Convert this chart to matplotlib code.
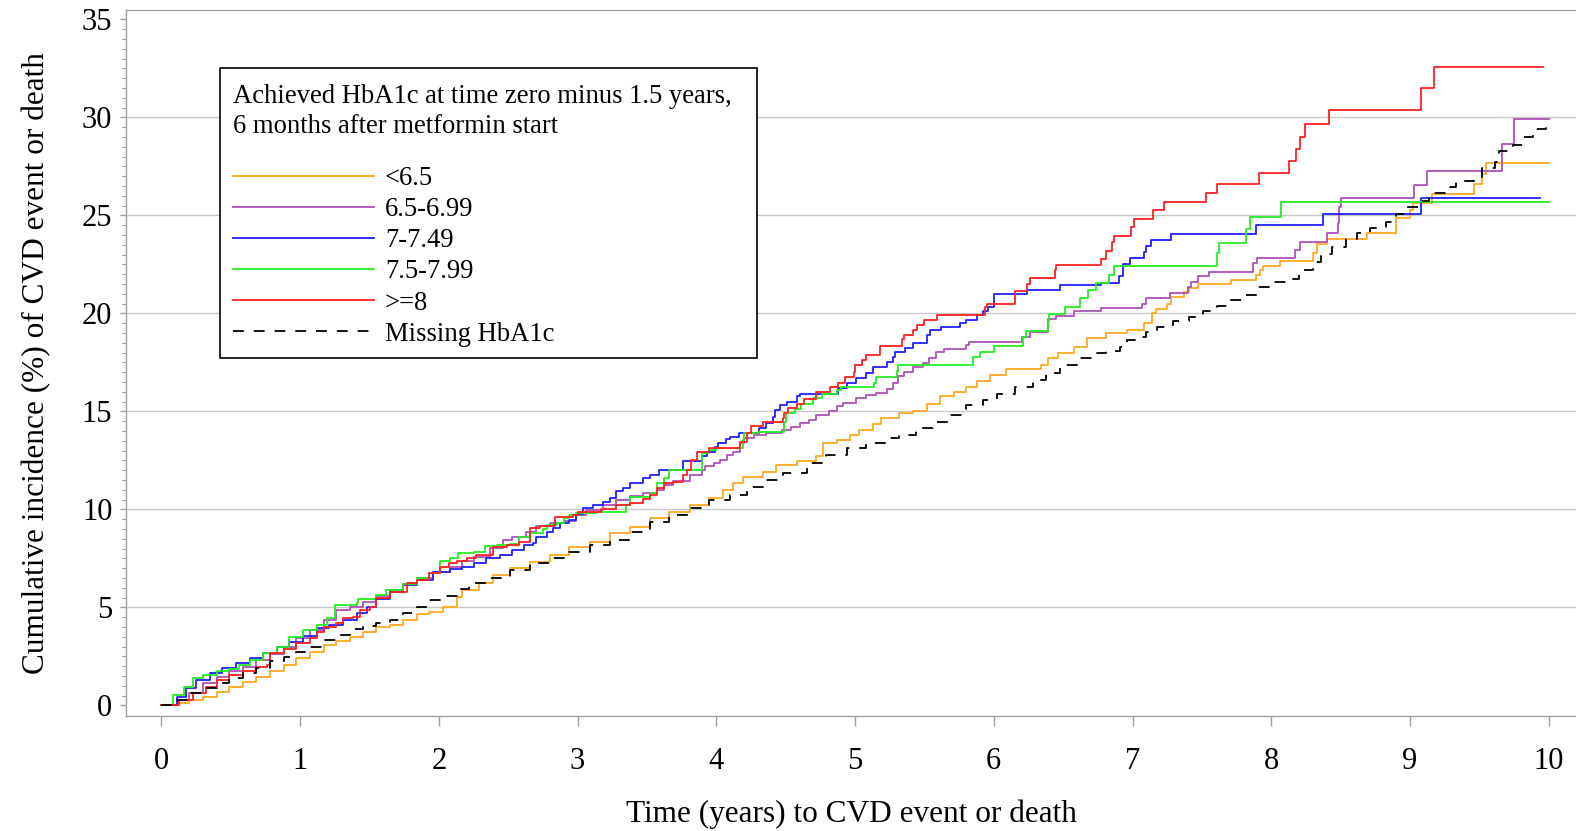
import numpy as np
import matplotlib
matplotlib.use("Agg")
import matplotlib.pyplot as plt
from matplotlib.patches import Rectangle

plt.rcParams["font.family"] = ["Liberation Serif", "DejaVu Serif"]

# (time in years, cumulative incidence %)
lt65 = np.array([(0,0),(0.11,0.11),(0.2,0.28),(0.3,0.45),(0.4,0.7),(0.49,0.96),(0.59,1.21),(0.68,1.47),(0.78,1.73),(0.88,2.07),(0.97,2.41),(1.07,2.74),(1.17,3.09),(1.26,3.31),(1.36,3.51),(1.45,3.77),(1.55,3.99),(1.65,4.11),(1.74,4.36),(1.84,4.67),(1.93,4.79),(2.03,5.04),(2.13,5.55),(2.17,5.89),(2.29,6.23),(2.39,6.66),(2.51,7.0),(2.66,7.34),(2.8,7.68),(2.94,8.1),(3.09,8.36),(3.23,8.79),(3.38,9.12),(3.52,9.55),(3.66,9.89),(3.81,10.23),(3.95,10.57),(4.05,11.0),(4.12,11.34),(4.19,11.67),(4.34,11.93),(4.43,12.27),(4.58,12.49),(4.72,12.7),(4.77,13.38),(4.87,13.55),(4.96,13.8),(5.03,14.06),(5.13,14.36),(5.19,14.65),(5.32,14.9),(5.42,15.0),(5.52,15.38),(5.61,15.76),(5.71,16.0),(5.8,16.26),(5.88,16.57),(5.97,16.86),(6.09,17.15),(6.34,17.37),(6.39,17.7),(6.46,17.97),(6.58,18.3),(6.67,18.73),(6.81,18.99),(6.96,19.16),(7.08,19.5),(7.14,20.0),(7.17,20.2),(7.25,20.5),(7.28,20.86),(7.37,21.1),(7.41,21.28),(7.47,21.5),(7.71,21.7),(7.89,21.96),(7.92,22.2),(7.94,22.42),(8.06,22.68),(8.3,23.07),(8.33,23.55),(8.4,23.8),(8.69,24.12),(8.9,24.86),(9.0,25.28),(9.02,25.62),(9.16,26.1),(9.46,26.6),(9.52,27.1),(9.55,27.66),(10.0,27.66)])

h65_699 = np.array([(0,0),(0.11,0.28),(0.2,0.62),(0.3,1.13),(0.4,1.47),(0.49,1.73),(0.59,1.98),(0.68,2.32),(0.78,2.63),(0.88,3.0),(0.97,3.43),(1.07,3.85),(1.17,4.36),(1.26,4.87),(1.36,5.04),(1.45,5.3),(1.55,5.59),(1.65,5.89),(1.74,6.2),(1.84,6.49),(1.96,6.83),(2.08,7.08),(2.17,7.39),(2.25,7.59),(2.37,8.02),(2.46,8.44),(2.53,8.61),(2.63,8.87),(2.7,9.13),(2.8,9.3),(2.9,9.43),(2.99,9.72),(3.06,9.97),(3.18,10.23),(3.28,10.49),(3.38,10.69),(3.47,10.83),(3.57,10.99),(3.62,11.25),(3.69,11.47),(3.81,11.76),(3.9,12.02),(3.92,12.22),(3.98,12.36),(4.03,12.52),(4.08,12.78),(4.12,12.95),(4.17,13.38),(4.2,13.63),(4.27,13.8),(4.36,13.92),(4.47,14.06),(4.54,14.22),(4.6,14.4),(4.67,14.57),(4.72,14.82),(4.81,15.04),(4.87,15.25),(4.91,15.42),(5.01,15.67),(5.08,15.84),(5.15,15.96),(5.23,16.13),(5.27,16.44),(5.31,16.81),(5.35,17.03),(5.42,17.29),(5.49,17.46),(5.53,17.71),(5.58,18.05),(5.64,18.17),(5.8,18.39),(5.82,18.55),(6.2,18.78),(6.26,19.07),(6.39,19.7),(6.45,19.87),(6.58,20.1),(6.77,20.3),(7.07,20.5),(7.1,20.77),(7.27,21.03),(7.4,21.37),(7.42,21.6),(7.47,21.9),(7.55,22.13),(7.87,22.56),(7.9,22.85),(8.17,23.24),(8.21,23.66),(8.4,24.09),(8.48,24.6),(8.49,25.45),(8.5,25.88),(9.03,26.56),(9.12,27.29),(9.66,28.63),(9.75,29.9),(10.0,29.9)])

h7_749 = np.array([(0,0),(0.11,0.45),(0.18,0.88),(0.25,1.3),(0.35,1.64),(0.44,1.9),(0.54,2.15),(0.64,2.41),(0.73,2.66),(0.83,2.97),(0.92,3.26),(1.02,3.55),(1.12,3.94),(1.21,4.11),(1.31,4.36),(1.41,4.7),(1.48,5.01),(1.55,5.42),(1.65,5.8),(1.74,6.15),(1.84,6.4),(1.96,6.83),(2.08,6.96),(2.17,7.08),(2.25,7.29),(2.34,7.51),(2.44,7.68),(2.53,7.93),(2.61,8.19),(2.68,8.31),(2.7,8.61),(2.78,8.87),(2.82,9.04),(2.87,9.3),(2.94,9.46),(2.99,9.77),(3.04,10.06),(3.11,10.23),(3.18,10.4),(3.23,10.57),(3.28,10.94),(3.33,11.08),(3.38,11.34),(3.47,11.59),(3.52,11.76),(3.59,12.02),(3.76,12.49),(3.9,12.7),(3.93,12.92),(3.99,13.2),(4.01,13.41),(4.07,13.58),(4.1,13.71),(4.16,13.89),(4.31,14.14),(4.36,14.4),(4.41,14.73),(4.42,15.07),(4.46,15.33),(4.51,15.5),(4.58,15.76),(4.6,15.9),(4.88,16.18),(4.94,16.47),(5.01,16.7),(5.08,16.98),(5.13,17.29),(5.23,17.54),(5.27,17.8),(5.29,18.05),(5.36,18.22),(5.42,18.48),(5.52,18.9),(5.54,19.16),(5.62,19.3),(5.76,19.5),(5.8,19.67),(5.88,19.92),(5.92,20.13),(5.96,20.35),(6.0,21.0),(6.24,21.2),(6.48,21.45),(6.77,21.57),(6.9,21.9),(6.93,22.5),(6.98,22.85),(7.08,23.15),(7.1,23.45),(7.13,23.75),(7.28,24.05),(7.89,24.5),(8.37,25.06),(9.08,25.9),(9.94,25.9)])

h75_799 = np.array([(0,0),(0.08,0.54),(0.16,0.96),(0.23,1.39),(0.3,1.56),(0.4,1.73),(0.49,1.85),(0.56,2.07),(0.64,2.32),(0.73,2.66),(0.83,3.0),(0.92,3.51),(1.02,3.85),(1.12,4.11),(1.19,4.45),(1.25,5.13),(1.41,5.21),(1.42,5.42),(1.55,5.64),(1.62,5.89),(1.74,6.2),(1.84,6.49),(1.93,6.74),(2.01,7.39),(2.08,7.51),(2.14,7.8),(2.25,7.85),(2.33,8.14),(2.42,8.19),(2.51,8.24),(2.58,8.61),(2.66,8.79),(2.75,8.99),(2.78,9.21),(2.85,9.3),(2.9,9.55),(2.94,9.72),(2.99,9.8),(3.14,9.89),(3.35,10.23),(3.38,10.62),(3.52,10.83),(3.57,11.34),(3.62,11.59),(3.66,12.02),(3.9,12.87),(3.95,13.03),(4.0,13.12),(4.19,13.55),(4.2,13.89),(4.3,13.97),(4.49,14.48),(4.5,14.9),(4.57,15.1),(4.61,15.38),(4.7,15.67),(4.76,15.9),(4.87,16.1),(4.9,16.26),(5.14,16.47),(5.15,16.78),(5.3,17.08),(5.31,17.37),(5.85,17.76),(5.9,18.05),(6.0,18.36),(6.21,18.8),(6.23,19.1),(6.39,19.6),(6.4,19.95),(6.51,20.35),(6.62,20.77),(6.68,21.2),(6.74,21.57),(6.83,21.96),(6.87,22.4),(7.61,23.07),(7.62,23.6),(7.82,24.3),(7.85,24.94),(8.07,25.67),(10.0,25.67)])

ge8 = np.array([(0,0),(0.13,0.28),(0.23,0.62),(0.32,0.96),(0.4,1.3),(0.49,1.56),(0.59,1.73),(0.68,1.98),(0.76,2.07),(0.78,2.66),(0.88,2.87),(0.97,3.17),(1.07,3.43),(1.12,3.77),(1.17,4.02),(1.26,4.19),(1.31,4.45),(1.38,4.53),(1.43,4.87),(1.5,5.04),(1.55,5.47),(1.65,5.8),(1.77,6.27),(1.84,6.4),(1.93,6.74),(2.01,7.08),(2.07,7.29),(2.13,7.39),(2.2,7.51),(2.27,7.68),(2.39,8.1),(2.49,8.19),(2.58,8.36),(2.66,9.04),(2.73,9.13),(2.84,9.63),(2.97,9.72),(3.0,9.89),(3.17,10.01),(3.28,10.23),(3.38,10.32),(3.47,10.52),(3.52,10.74),(3.57,11.08),(3.62,11.37),(3.69,11.42),(3.76,11.76),(3.79,12.02),(3.82,12.53),(3.86,12.95),(3.95,13.12),(4.17,13.46),(4.22,13.89),(4.25,14.28),(4.34,14.48),(4.48,14.65),(4.49,14.9),(4.52,15.16),(4.58,15.38),(4.63,15.62),(4.72,16.0),(4.82,16.26),(4.88,16.47),(4.93,16.74),(4.99,17.03),(5.0,17.37),(5.05,17.63),(5.08,17.88),(5.18,18.34),(5.34,18.68),(5.35,18.9),(5.42,19.16),(5.45,19.4),(5.5,19.67),(5.59,19.92),(5.94,20.35),(5.95,20.5),(6.15,21.15),(6.24,21.5),(6.26,21.8),(6.44,22.2),(6.45,22.45),(6.77,22.8),(6.81,23.2),(6.85,23.65),(6.87,23.97),(6.99,24.4),(7.01,24.8),(7.15,25.25),(7.23,25.7),(7.53,26.16),(7.61,26.6),(7.91,27.15),(8.13,27.75),(8.18,28.4),(8.21,29.0),(8.24,29.67),(8.42,30.4),(9.08,31.5),(9.17,32.56),(9.96,32.56)])

missing = np.array([(0,0),(0.11,0.28),(0.2,0.62),(0.3,0.88),(0.4,1.13),(0.49,1.39),(0.59,1.64),(0.68,1.9),(0.78,2.24),(0.88,2.49),(0.97,2.74),(1.07,3.0),(1.17,3.34),(1.26,3.6),(1.36,3.89),(1.45,4.06),(1.55,4.19),(1.65,4.36),(1.74,4.7),(1.84,5.04),(1.93,5.38),(2.03,5.59),(2.13,5.93),(2.22,6.23),(2.37,6.49),(2.51,6.91),(2.66,7.25),(2.8,7.51),(2.94,7.85),(3.09,8.19),(3.23,8.44),(3.38,8.87),(3.52,9.38),(3.66,9.72),(3.81,10.06),(3.95,10.48),(4.1,10.74),(4.22,11.16),(4.36,11.5),(4.48,11.85),(4.65,12.36),(4.79,12.78),(4.94,13.12),(5.08,13.41),(5.23,13.63),(5.32,13.8),(5.44,14.14),(5.56,14.48),(5.68,14.82),(5.8,15.33),(5.92,15.59),(6.02,15.9),(6.15,16.25),(6.28,16.6),(6.38,16.95),(6.48,17.37),(6.6,17.7),(6.7,17.97),(6.81,18.1),(6.91,18.3),(6.96,18.65),(7.02,18.8),(7.1,19.07),(7.18,19.3),(7.29,19.6),(7.41,19.84),(7.51,20.1),(7.61,20.38),(7.7,20.69),(7.8,20.94),(7.89,21.37),(8.0,21.6),(8.13,21.74),(8.2,22.2),(8.3,22.6),(8.36,23.05),(8.44,23.4),(8.54,23.8),(8.62,24.1),(8.71,24.35),(8.83,24.64),(8.9,25.08),(8.98,25.45),(9.07,25.75),(9.14,26.16),(9.26,26.47),(9.33,26.77),(9.46,26.97),(9.52,27.4),(9.61,27.74),(9.64,28.3),(9.74,28.6),(9.82,29.0),(9.89,29.4),(9.98,29.6)])

labels = ["<6.5", "6.5-6.99", "7-7.49", "7.5-7.99", ">=8", "Missing HbA1c"]
curves = [lt65, h65_699, h7_749, h75_799, ge8, missing]
colors = ["#FFA820", "#B050B8", "#2020FF", "#22EE22", "#FF2020", "black"]
legend_title = ["Achieved HbA1c at time zero minus 1.5 years,",
                "6 months after metformin start"]

fig = plt.figure(figsize=(15.76, 8.31), dpi=100)
ax = fig.add_axes([0.0799, 0.1384, 0.9201, 0.8496])

handles = []
for data, lab, col in zip(curves, labels, colors):
    if lab == "Missing HbA1c":
        ln, = ax.plot(data[:, 0], data[:, 1], drawstyle="steps-post", color=col,
                      lw=1.3, dashes=(6, 5.5), label=lab)
    else:
        ln, = ax.plot(data[:, 0], data[:, 1], drawstyle="steps-post", color=col,
                      lw=1.3, label=lab)
    handles.append(ln)

ax.set_xlim(-0.256, 10.197)
ax.set_ylim(-0.54, 35.48)
ax.set_xticks(range(0, 11))
ax.set_yticks(range(0, 36, 5))
ax.set_yticks(np.arange(0, 35.01, 0.5), minor=True)

ax.grid(axis="y", color="#c8c8c8", lw=1.0)
gl = ax.yaxis.get_gridlines()
gl[0].set_visible(False)
gl[-1].set_visible(False)
ax.set_axisbelow(True)

for s in ["left", "bottom", "top"]:
    ax.spines[s].set_color("#a0a0a0")
    ax.spines[s].set_linewidth(1.0)
ax.spines["right"].set_visible(False)

ax.tick_params(axis="x", which="major", length=7, width=1, color="#a0a0a0",
               labelsize=22, pad=15)
ax.tick_params(axis="y", which="major", length=4.3, width=1, color="#a0a0a0",
               labelsize=22, pad=5.5)
ax.tick_params(axis="y", which="minor", length=2.8, width=0.8, color="#a0a0a0")

ax.set_xlabel("Time (years) to CVD event or death", fontsize=22.5, labelpad=17)
ax.set_ylabel("Cumulative incidence (%) of CVD event or death", fontsize=22.5, labelpad=22)

# legend frame and title
ax.add_patch(Rectangle((0.0648, 0.5071), 0.3704, 0.4107, transform=ax.transAxes,
                       facecolor="white", edgecolor="black", lw=1.2, zorder=5))
ax.text(0.0738, 0.868, legend_title[0], transform=ax.transAxes, fontsize=19.2,
        va="baseline", zorder=6)
ax.text(0.0738, 0.826, legend_title[1], transform=ax.transAxes, fontsize=19.2,
        va="baseline", zorder=6)
leg = ax.legend(handles=handles, labels=labels, loc="upper left",
                bbox_to_anchor=(0.0738, 0.779), frameon=False, fontsize=19.2,
                handlelength=5.3, handletextpad=0.4, labelspacing=0.23,
                borderpad=0, borderaxespad=0)
leg.set_zorder(7)

fig.savefig("out.png", dpi=100)
